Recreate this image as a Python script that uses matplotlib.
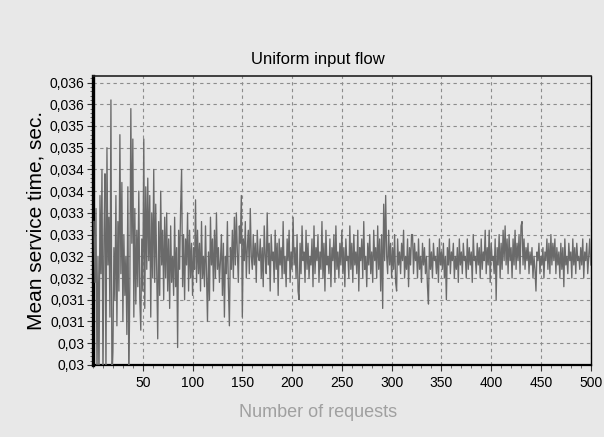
import numpy as np
import matplotlib
matplotlib.use("Agg")
import matplotlib.pyplot as plt
from matplotlib.ticker import MultipleLocator

plt.rcParams['font.family'] = ['Liberation Sans', 'DejaVu Sans']

# mean service time per request, in milliseconds
mean_time_ms = [
    32.8, 31.4, 33.1, 29.2, 32.0, 29.0, 33.4, 31.6, 34.0, 29.1,
    32.4, 33.9, 29.2, 34.5, 31.8, 32.9, 30.6, 35.6, 29.1, 29.8,
    32.2, 31.0, 33.4, 30.4, 32.8, 31.2, 34.8, 31.6, 33.7, 30.5,
    32.5, 31.1, 32.0, 30.2, 33.6, 29.0, 31.4, 35.4, 32.3, 34.7,
    30.6, 33.1, 30.9, 32.6, 31.3, 33.5, 31.0, 30.3, 32.4, 31.2,
    34.7, 30.8, 33.6, 31.7, 33.8, 31.9, 33.4, 30.6, 33.0, 31.5,
    34.0, 31.4, 33.2, 31.6, 30.1, 32.8, 31.1, 33.5, 31.8, 32.6,
    31.0, 32.9, 31.5, 33.0, 31.2, 32.4, 30.8, 32.7, 31.4, 32.0,
    31.1, 32.9, 31.3, 32.2, 29.9, 32.6, 31.7, 33.1, 34.0, 31.3,
    32.5, 31.0, 32.4, 31.8, 33.0, 31.2, 32.6, 31.5, 32.3, 31.1,
    32.2, 31.7, 33.3, 31.4, 32.6, 31.6, 32.3, 31.2, 32.8, 31.5,
    32.0, 31.3, 32.7, 31.6, 30.5, 32.1, 31.0, 32.9, 31.8, 32.4,
    31.2, 32.6, 31.5, 33.0, 31.7, 32.2, 31.4, 31.9, 32.5, 31.1,
    32.3, 30.6, 32.0, 31.6, 32.8, 31.3, 30.4, 32.2, 31.7, 32.6,
    31.5, 32.9, 31.8, 33.0, 32.1, 31.4, 32.7, 32.3, 33.4, 30.6,
    32.4, 31.9, 32.8, 31.5, 32.2, 32.6, 31.6, 33.1, 32.0, 31.7,
    32.5, 31.8, 32.3, 31.4, 32.6, 32.0, 31.9, 32.4, 31.5, 32.2,
    31.3, 32.7, 32.0, 31.6, 33.0, 31.8, 32.3, 31.2, 32.5, 31.9,
    32.1, 31.4, 32.6, 31.7, 32.3, 31.1, 32.4, 31.8, 32.2, 31.5,
    32.8, 31.6, 32.0, 31.3, 32.4, 31.9, 32.6, 31.4, 32.1, 31.7,
    32.9, 31.8, 32.2, 31.5, 32.5, 31.2, 31.0, 32.3, 31.6, 32.7,
    31.9, 32.1, 31.4, 32.6, 31.7, 32.3, 31.5, 32.0, 31.8, 32.4,
    31.3, 32.7, 31.6, 32.2, 31.9, 32.5, 31.4, 32.1, 31.7, 32.8,
    31.5, 32.3, 31.2, 32.6, 31.8, 32.0, 31.6, 32.4, 31.3, 32.2,
    31.9, 32.5, 31.4, 32.7, 31.7, 32.1, 31.5, 32.3, 31.8, 32.6,
    31.6, 32.2, 31.3, 32.4, 31.9, 32.0, 31.5, 32.7, 31.7, 32.3,
    31.4, 32.5, 31.8, 32.1, 31.6, 32.6, 31.2, 32.2, 31.9, 32.4,
    31.5, 32.8, 31.7, 32.0, 31.3, 32.3, 31.8, 32.5, 31.6, 32.1,
    31.4, 32.6, 31.9, 32.2, 31.5, 32.7, 31.7, 32.4, 31.2, 32.5,
    30.8, 33.2, 31.9, 33.4, 32.0, 31.6, 32.6, 31.8, 32.3, 31.5,
    32.2, 31.7, 32.5, 31.4, 31.2, 32.4, 31.8, 32.1, 31.6, 32.3,
    31.9, 32.6, 31.5, 32.0, 31.7, 32.4, 31.3, 32.2, 31.8, 32.5,
    32.5, 31.6, 32.3, 31.9, 32.1, 31.5, 32.4, 31.7, 32.0, 31.4,
    32.3, 31.8, 32.2, 31.6, 32.0, 31.3, 30.9, 32.4, 31.7, 32.1,
    31.5, 32.3, 31.9, 32.0, 31.6, 32.2, 31.4, 32.4, 31.8, 32.1,
    31.7, 32.3, 31.5, 32.0, 31.0, 32.2, 31.8, 32.4, 31.6, 32.1,
    31.9, 32.3, 31.5, 32.0, 31.7, 32.2, 31.4, 32.4, 31.8, 32.1,
    31.6, 32.3, 31.9, 32.0, 31.5, 32.4, 31.7, 32.2, 31.8, 32.1,
    31.4, 32.5, 31.9, 32.0, 31.6, 32.3, 31.8, 32.2, 31.5, 32.4,
    31.7, 32.1, 31.9, 32.6, 31.6, 32.2, 31.8, 32.6, 31.4, 32.3,
    31.9, 32.0, 31.6, 32.4, 31.0, 32.2, 31.8, 32.5, 31.5, 32.3,
    31.7, 32.6, 31.9, 32.7, 31.8, 32.4, 31.6, 32.5, 31.9, 32.2,
    31.5, 32.4, 31.8, 32.6, 31.7, 32.3, 31.9, 32.5, 31.6, 32.7,
    32.8, 31.8, 32.4, 31.7, 32.2, 31.9, 32.3, 31.6, 32.1, 31.8,
    32.2, 31.5, 32.0, 31.7, 31.2, 32.1, 31.9, 32.3, 31.6, 32.0,
    31.8, 32.2, 31.5, 32.1, 31.9, 32.4, 31.7, 32.3, 31.6, 32.5,
    31.8, 32.3, 31.9, 32.4, 31.6, 32.2, 31.8, 32.1, 31.5, 32.3,
    31.7, 32.2, 31.3, 32.4, 31.8, 32.0, 31.6, 32.3, 31.9, 32.1,
    31.5, 32.4, 31.8, 32.2, 31.6, 32.3, 31.9, 32.0, 31.7, 32.2,
    31.8, 32.4, 31.5, 32.1, 31.9, 32.3, 31.6, 32.0, 32.4, 31.8,
]
requests = np.arange(1, len(mean_time_ms) + 1)
mean_time = np.array(mean_time_ms) / 1000.0

y_ticks = [0.0295, 0.0300, 0.0305, 0.0310, 0.0315, 0.0320, 0.0325,
           0.0330, 0.0335, 0.0340, 0.0345, 0.0350, 0.0355, 0.0360]
y_tick_labels = ["0,03", "0,03", "0,031", "0,031", "0,032", "0,032", "0,033",
                 "0,033", "0,034", "0,034", "0,035", "0,035", "0,036", "0,036"]
x_ticks = [50, 100, 150, 200, 250, 300, 350, 400, 450, 500]

bg = '#e8e8e8'
fig = plt.figure(figsize=(6.04, 4.37), dpi=100, facecolor=bg)
ax = fig.add_axes([0.154, 0.165, 0.824, 0.660], facecolor=bg)

ax.plot(requests, mean_time, color='#6a6a6a', linewidth=0.95, zorder=3)

ax.set_xlim(0, 500)
ax.set_ylim(0.0295, 0.03614)

ax.set_yticks(y_ticks)
ax.set_yticklabels(y_tick_labels)
ax.yaxis.set_minor_locator(MultipleLocator(0.0001))
ax.set_xticks(x_ticks)
ax.set_xticklabels([str(v) for v in x_ticks])
ax.xaxis.set_minor_locator(MultipleLocator(10))

ax.tick_params(axis='both', which='major', length=4, width=0.8, labelsize=10,
               color='#333333', pad=2)
ax.tick_params(axis='both', which='minor', length=2.5, width=0.6, color='#555555')
ax.tick_params(axis='x', pad=4)

ax.grid(True, which='major', color='#8c8c8c', linestyle=(0, (3, 3)), linewidth=0.8)

ax.spines['left'].set_linewidth(2.4)
ax.spines['bottom'].set_linewidth(1.6)
ax.spines['top'].set_linewidth(1.2)
ax.spines['top'].set_color('#222222')
ax.spines['right'].set_linewidth(1.0)
ax.spines['right'].set_linestyle((0, (2, 1)))

# title and x label are centred left of the plot centre in the original
ax.set_title("Uniform input flow", fontsize=12, x=0.452, pad=9)
ax.set_ylabel("Mean service time, sec.", fontsize=15, labelpad=3)
ax.set_xlabel("Number of requests", fontsize=13, color='#a0a0a0')
ax.xaxis.set_label_coords(0.452, -0.135)

fig.savefig("out.png", dpi=100, facecolor=bg)
